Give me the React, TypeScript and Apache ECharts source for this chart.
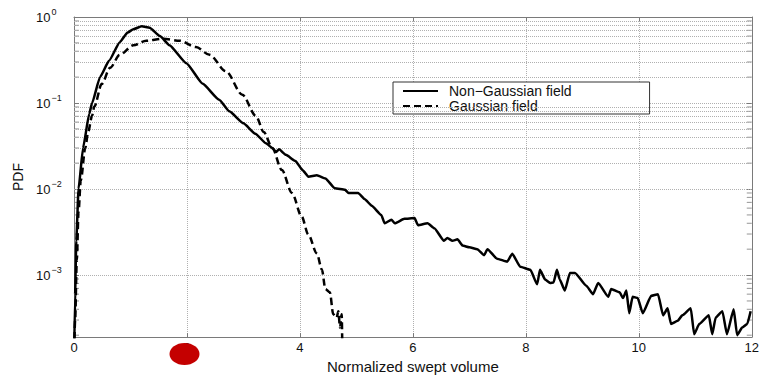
import React, { useEffect, useRef } from 'react';
import * as echarts from 'echarts';

// ---- data ----
const nonGaussian: [number, number][] = [
  [0, 1e-4], [0.02, 6e-4], [0.04, 2.5e-3], [0.08, 0.01], [0.16, 0.03], [0.27, 0.075], [0.32, 0.1],
  [0.46, 0.2], [0.62, 0.31], [0.81, 0.51], [0.95, 0.66], [1.05, 0.72], [1.2, 0.78], [1.34, 0.75],
  [1.52, 0.6], [1.69, 0.47], [1.99, 0.29], [2.28, 0.167], [2.57, 0.109], [2.75, 0.08], [3.0, 0.058],
  [3.21, 0.044], [3.4, 0.034], [3.51, 0.03], [3.58, 0.027], [3.63, 0.029], [3.75, 0.025], [3.92, 0.0212],
  [4.05, 0.0165], [4.15, 0.0139], [4.3, 0.0145], [4.45, 0.0133], [4.62, 0.0102], [4.8, 0.0098],
  [4.86, 0.009], [5.03, 0.009], [5.15, 0.0076], [5.27, 0.0064], [5.44, 0.005], [5.5, 0.004],
  [5.62, 0.0044], [5.68, 0.004], [5.85, 0.0045], [6.03, 0.0046], [6.09, 0.0038], [6.26, 0.004],
  [6.38, 0.0035], [6.55, 0.0025], [6.61, 0.0027], [6.7, 0.0025], [6.79, 0.0026], [6.88, 0.0022],
  [7.0, 0.0021], [7.14, 0.002], [7.26, 0.0017], [7.32, 0.002], [7.49, 0.00155], [7.67, 0.00143],
  [7.76, 0.00177], [7.9, 0.00125], [8.08, 0.00115], [8.2, 0.00078], [8.25, 0.00115], [8.34, 0.00089],
  [8.43, 0.00081], [8.49, 0.00082], [8.55, 0.00115], [8.6, 0.00089], [8.69, 0.00066], [8.78, 0.00106],
  [8.87, 0.00106], [9.07, 0.00075], [9.19, 0.0006], [9.28, 0.00081], [9.46, 0.00056], [9.51, 0.00069],
  [9.66, 0.00063], [9.72, 0.00054], [9.78, 0.00066], [9.83, 0.00036], [9.89, 0.00056], [9.98, 0.00054],
  [10.07, 0.00036], [10.22, 0.000575], [10.34, 0.0006], [10.43, 0.00034], [10.51, 0.00041],
  [10.57, 0.00027], [10.69, 0.000295], [10.77, 0.00034], [10.92, 0.00041], [10.98, 0.000205],
  [11.07, 0.00027], [11.24, 0.00034], [11.3, 0.000205], [11.36, 0.00032], [11.48, 0.00038],
  [11.56, 0.000205], [11.68, 0.0004], [11.74, 0.0002], [11.83, 0.000245], [11.92, 0.00027],
  [11.98, 0.00038],
];

const gaussian: [number, number][] = [
  [0, 1e-4], [0.02, 3e-4], [0.05, 1.5e-3], [0.08, 5.4e-3], [0.12, 0.0126], [0.2, 0.03], [0.25, 0.046],
  [0.32, 0.071], [0.36, 0.091], [0.49, 0.166], [0.64, 0.257], [0.81, 0.363], [1.05, 0.468],
  [1.28, 0.53], [1.57, 0.56], [1.87, 0.53], [2.16, 0.447], [2.4, 0.363], [2.69, 0.234], [2.98, 0.125],
  [3.22, 0.071], [3.36, 0.046], [3.51, 0.03], [3.68, 0.0166], [3.86, 0.009], [4.03, 0.0048],
  [4.15, 0.00295], [4.3, 0.00178], [4.39, 0.00115], [4.45, 0.00069], [4.53, 0.00063], [4.59, 0.00035],
  [4.65, 0.00032], [4.68, 0.00038], [4.71, 0.000245], [4.74, 0.00035], [4.75, 0.00015],
];

const seriesNames = ['Non\u2212Gaussian field', 'Gaussian field'];
const xTitle = 'Normalized swept volume';
const yTitle = 'PDF';
const xMin = 0;
const xMax = 12;
const xStep = 2;
const yMin = 1.9e-4;
const yMax = 1;
const minorMantissas = [2, 3, 4, 5, 6, 7, 8, 9];
const minorDecades = [-4, -3, -2, -1];

const FONT = '"Liberation Sans", Arial, Helvetica, sans-serif';
const FRAME = '#7a7a7a';
const GRID = '#b0b0b0';
const TEXT = '#111';

export default function App() {
  const ref = useRef<HTMLDivElement>(null);

  useEffect(() => {
    const chart = echarts.init(ref.current!, null, { renderer: 'svg' });
    const minorVals = minorDecades
      .flatMap((d) => minorMantissas.map((m) => m * Math.pow(10, d)))
      .filter((v) => v > yMin && v < yMax);

    const supLabel = (v: number) => {
      const e = Math.log10(v);
      const r = Math.round(e);
      if (Math.abs(e - r) > 1e-6) return '';
      const exp = r === 0 ? '0' : (r < 0 ? '\u2212' + String(-r) : String(r));
      return `{b|10}{s|${exp}}`;
    };

    const option: any = {
      animation: false,
      backgroundColor: '#fff',
      textStyle: { fontFamily: FONT },
      grid: { left: 74, top: 17, width: 682, height: 332 },
      legend: {
        orient: 'vertical',
        left: 393,
        top: 82,
        data: seriesNames,
        itemWidth: 35,
        itemHeight: 10,
        itemGap: 1,
        padding: [2, 78, 1, 9],
        borderColor: '#333',
        borderWidth: 1,
        borderRadius: 0,
        backgroundColor: '#fff',
        selectedMode: false,
        itemStyle: { color: 'transparent', borderWidth: 0, opacity: 0 },
        textStyle: { fontSize: 14, lineHeight: 14, color: TEXT, fontFamily: FONT, padding: [0, 0, 0, 6] },
      },
      xAxis: [
        {
          type: 'value', min: xMin, max: xMax, interval: xStep, position: 'bottom',
          name: xTitle, nameLocation: 'middle', nameGap: 19,
          nameTextStyle: { fontSize: 15, color: TEXT, fontFamily: FONT },
          axisLine: { show: true, onZero: false, lineStyle: { color: FRAME, width: 1 } },
          axisTick: { show: true, inside: true, length: 4, lineStyle: { color: FRAME } },
          axisLabel: { color: TEXT, fontSize: 13, margin: 4, fontFamily: FONT },
          splitLine: { show: true, lineStyle: { type: 'dotted', color: GRID, width: 1 } },
        },
        {
          type: 'value', min: xMin, max: xMax, interval: xStep, position: 'top',
          axisLine: { show: true, onZero: false, lineStyle: { color: FRAME, width: 1 } },
          axisTick: { show: true, inside: true, length: 4, lineStyle: { color: FRAME } },
          axisLabel: { show: false },
          splitLine: { show: false },
        },
      ],
      yAxis: [
        {
          type: 'log', logBase: 10, min: yMin, max: yMax, position: 'left',
          name: yTitle, nameLocation: 'middle', nameGap: 44, nameRotate: 90,
          nameTextStyle: { fontSize: 14, color: TEXT, fontFamily: FONT },
          axisLine: { show: true, onZero: false, lineStyle: { color: FRAME, width: 1 } },
          axisTick: { show: true, inside: true, length: 5, lineStyle: { color: FRAME } },
          axisLabel: {
            showMinLabel: false,
            align: 'left',
            margin: 38,
            formatter: supLabel,
            rich: {
              b: { fontSize: 13, color: TEXT, fontFamily: FONT },
              s: { fontSize: 9, color: TEXT, fontFamily: FONT, lineHeight: 9, padding: [0, 0, 11, 1] },
            },
          },
          splitLine: { show: true, lineStyle: { type: 'dotted', color: GRID, width: 1 } },
        },
        {
          type: 'log', logBase: 10, min: yMin, max: yMax, position: 'right',
          axisLine: { show: true, onZero: false, lineStyle: { color: FRAME, width: 1 } },
          axisTick: { show: true, inside: true, length: 5, lineStyle: { color: FRAME } },
          axisLabel: { show: false },
          splitLine: { show: false },
        },
      ],
      series: [
        {
          name: 'minorLeft', type: 'scatter', silent: true, clip: false, z: 3,
          data: minorVals.map((v) => [xMin, v]),
          symbol: 'rect', symbolSize: [5, 1], symbolOffset: [2.5, 0],
          itemStyle: { color: FRAME },
          markLine: {
            silent: true, symbol: ['none', 'none'], label: { show: false },
            lineStyle: { type: 'dotted', color: GRID, width: 1 },
            data: minorVals.map((v) => ({ yAxis: v })),
          },
        },
        {
          name: 'minorRight', type: 'scatter', silent: true, clip: false, z: 3,
          data: minorVals.map((v) => [xMax, v]),
          symbol: 'rect', symbolSize: [5, 1], symbolOffset: [-2.5, 0],
          itemStyle: { color: FRAME },
        },
        {
          name: seriesNames[0], type: 'line', data: nonGaussian, symbol: 'none', showSymbol: false,
          clip: true, z: 5, smooth: 0.15, smoothMonotone: 'x',
          itemStyle: { color: '#000' },
          lineStyle: { color: '#000', width: 2.5, type: 'solid' },
        },
        {
          name: seriesNames[1], type: 'line', data: gaussian, symbol: 'none', showSymbol: false,
          clip: true, z: 5, smooth: 0.3, smoothMonotone: 'x',
          itemStyle: { color: '#000' },
          lineStyle: { color: '#000', width: 2.5, type: [7, 4] },
        },
      ],
      graphic: [
        {
          type: 'ellipse', z: 100,
          shape: { cx: 184.5, cy: 354, rx: 15, ry: 11 },
          style: { fill: '#c40000' },
        },
      ],
    };

    chart.setOption(option);
    return () => chart.dispose();
  }, []);

  return <div ref={ref} style={{ position: 'fixed', left: 0, top: 0, width: 762, height: 379 }} />;
}
